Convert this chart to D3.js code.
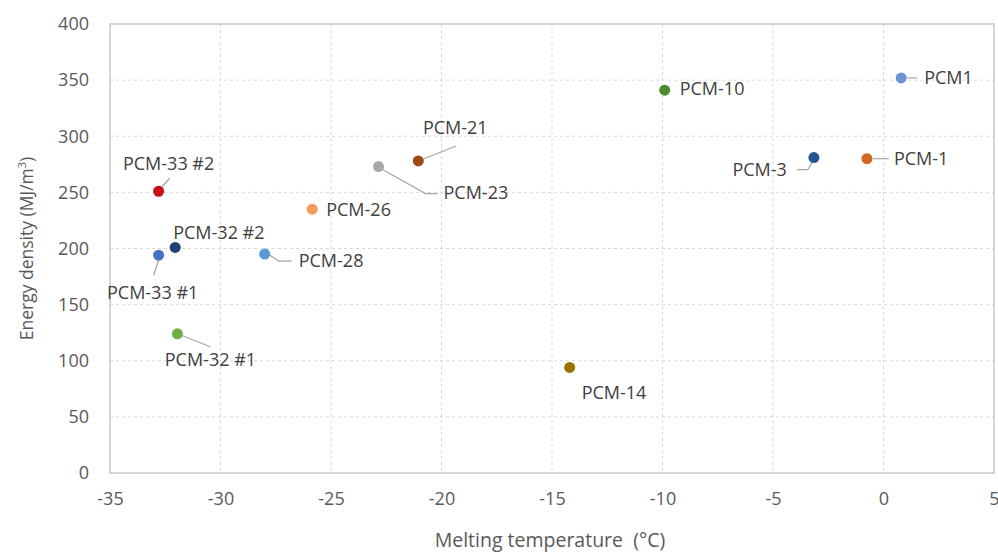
<!DOCTYPE html>
<html>
<head>
<meta charset="utf-8">
<script src="https://cdn.jsdelivr.net/npm/d3@7"></script>
<style>
  body { margin: 0; background: #fff; }
  svg { display: block; font-family: "Open Sans", sans-serif; }
</style>
</head>
<body>
<svg id="chart" width="998" height="554"></svg>
<script>
// data
const names = ["PCM1", "PCM-1", "PCM-3", "PCM-10", "PCM-14", "PCM-21", "PCM-23",
  "PCM-26", "PCM-28", "PCM-33 #2", "PCM-32 #2", "PCM-33 #1", "PCM-32 #1"];
const meltTemp = [0.8, -0.75, -3.15, -9.9, -14.2, -21.05, -22.85, -25.85, -28.0, -32.8, -32.05, -32.8, -31.95];
const energy = [352, 280, 281, 341, 94, 278, 273, 235, 195, 251, 201, 194, 124];
const colors = ["#7093d2", "#d2691e", "#24578f", "#508a2f", "#9a7400", "#9e4a12", "#a8a8a8",
  "#f59c5c", "#5b9bd5", "#c8101a", "#223f73", "#4472c4", "#6fae47"];

const xTicks = [-35, -30, -25, -20, -15, -10, -5, 0, 5];
const yTicks = [0, 50, 100, 150, 200, 250, 300, 350, 400];

// label placement (pixels relative to the marker)
const labelLayout = {
  "PCM1":      { dx: 23, dy: 0, anchor: "start", leader: [[6, 0], [16, 0]] },
  "PCM-1":     { dx: 27, dy: 0, anchor: "start", leader: [[6, 0], [22, 0]] },
  "PCM-3":     { dx: -27, dy: 12, anchor: "end", leader: [[-17, 12], [-6, 12], [-2, 5]] },
  "PCM-10":    { dx: 15, dy: -2, anchor: "start" },
  "PCM-14":    { dx: 12, dy: 25, anchor: "start" },
  "PCM-21":    { dx: 37, dy: -33, anchor: "middle", leader: [[5, -2], [38, -15]] },
  "PCM-23":    { dx: 65, dy: 26, anchor: "start", leader: [[4, 3], [47, 27], [59, 27]] },
  "PCM-26":    { dx: 14, dy: 0, anchor: "start" },
  "PCM-28":    { dx: 34, dy: 7, anchor: "start", leader: [[5, 1], [14, 7], [27, 7]] },
  "PCM-33 #2": { dx: 10, dy: -28, anchor: "middle", leader: [[3, -4], [11, -13]] },
  "PCM-32 #2": { dx: -2, dy: -15, anchor: "start" },
  "PCM-33 #1": { dx: -6, dy: 37, anchor: "middle", leader: [[0, 5], [-5, 20]] },
  "PCM-32 #1": { dx: 33, dy: 26, anchor: "middle", leader: [[5, 2], [33, 13]] }
};

const svg = d3.select("#chart");
const margin = { left: 110, top: 24, right: 4, bottom: 81 };
const width = 998 - margin.left - margin.right;
const height = 554 - margin.top - margin.bottom;

const x = d3.scaleLinear().domain([-35, 5]).range([0, width]);
const y = d3.scaleLinear().domain([0, 400]).range([height, 0]);

const g = svg.append("g").attr("transform", `translate(${margin.left},${margin.top})`);

// gridlines
g.append("g").selectAll("line")
  .data(yTicks.slice(1, -1)).enter().append("line")
  .attr("x1", 0).attr("x2", width)
  .attr("y1", d => y(d)).attr("y2", d => y(d))
  .attr("stroke", "#d9d9d9").attr("stroke-dasharray", "3,3");
g.append("g").selectAll("line")
  .data(xTicks.slice(1, -1)).enter().append("line")
  .attr("y1", 0).attr("y2", height)
  .attr("x1", d => x(d)).attr("x2", d => x(d))
  .attr("stroke", "#d9d9d9").attr("stroke-dasharray", "3,3");

// plot border
g.append("rect")
  .attr("x", 0).attr("y", 0).attr("width", width).attr("height", height)
  .attr("fill", "none").attr("stroke", "#c8c8c8").attr("stroke-width", 1.5);

// axes
const xAxis = g.append("g").attr("transform", `translate(0,${height})`)
  .call(d3.axisBottom(x).tickValues(xTicks).tickFormat(d => String(d)).tickSize(0).tickPadding(19));
const yAxis = g.append("g")
  .call(d3.axisLeft(y).tickValues(yTicks).tickFormat(d => String(d)).tickSize(0).tickPadding(21));
[xAxis, yAxis].forEach(a => {
  a.select(".domain").remove();
  a.selectAll("text").attr("fill", "#595959").attr("font-size", 18)
    .attr("font-family", "'Open Sans', sans-serif");
});

// points
const pts = names.map((n, i) => ({ name: n, t: meltTemp[i], e: energy[i], c: colors[i] }));

const lab = g.append("g");
pts.forEach(d => {
  const L = labelLayout[d.name];
  const px = x(d.t), py = y(d.e);
  if (L.leader) {
    lab.append("path")
      .attr("d", d3.line()(L.leader.map(p => [px + p[0], py + p[1]])))
      .attr("fill", "none").attr("stroke", "#a6a6a6").attr("stroke-width", 1.2);
  }
  lab.append("text")
    .attr("x", px + L.dx).attr("y", py + L.dy)
    .attr("dy", "0.35em")
    .attr("text-anchor", L.anchor)
    .attr("fill", "#404040").attr("font-size", 18)
    .text(d.name);
});

g.append("g").selectAll("circle")
  .data(pts).enter().append("circle")
  .attr("cx", d => x(d.t)).attr("cy", d => y(d.e))
  .attr("r", 5.5)
  .attr("fill", d => d.c);

// axis titles
svg.append("text")
  .attr("x", 550).attr("y", 547)
  .attr("text-anchor", "middle").attr("fill", "#595959").attr("font-size", 19.5)
  .text("Melting temperature\u00a0 (°C)");

const yt = svg.append("text")
  .attr("transform", `translate(33,${margin.top + height / 2}) rotate(-90)`)
  .attr("text-anchor", "middle").attr("fill", "#595959").attr("font-size", 17.5);
yt.append("tspan").text("Energy density (MJ/m");
yt.append("tspan").attr("font-size", 11).attr("dy", -7).text("3");
yt.append("tspan").attr("dy", 7).text(")");
</script>
</body>
</html>
